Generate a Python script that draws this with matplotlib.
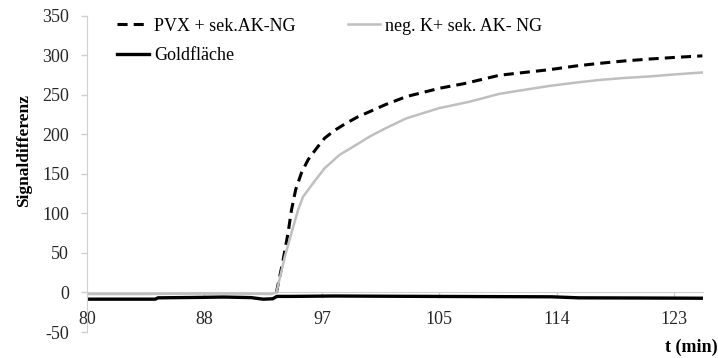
import matplotlib
matplotlib.use('Agg')
import matplotlib.pyplot as plt

plt.rcParams['font.family'] = ['Liberation Serif', 'DejaVu Serif']
plt.rcParams['axes.unicode_minus'] = False

# Zeit (min) und Signaldifferenz
t_pvx = [93.87, 94.36, 94.72, 94.97, 95.28, 95.70, 96.18, 96.80, 97.40, 98.14,
         98.99, 99.84, 100.70, 101.8, 103.38, 105.8, 107.64, 110.2, 112.0,
         113.86, 115.7, 117.5, 119.3, 121.2, 123.0, 125.06]
y_pvx = [0, 41, 75, 104, 130, 151, 167.5, 182, 195, 205,
         214, 222, 228.5, 237, 247.5, 258, 264, 274.5, 278,
         281.5, 286, 289.5, 292.5, 295, 297, 299]

t_neg = [80.0, 84.0, 88.0, 91.0, 93.5, 93.87, 94.48, 94.97, 95.45, 95.82, 96.55,
         97.40, 98.50, 99.47, 100.70, 101.8, 103.38, 105.8, 108.0, 110.2,
         112.0, 113.86, 115.7, 117.5, 119.3, 121.2, 123.0, 125.06]
y_neg = [-2, -2, -1.5, -1.5, -2, 0, 45, 75, 104, 121, 138,
         157, 174, 184, 197, 207, 220, 233, 241, 251,
         256, 261, 265, 268.5, 271, 273, 275.5, 278]

t_gold = [80.0, 85.0, 85.2, 88.0, 90.0, 92.0, 92.9, 93.6, 93.9, 95.0, 98.0, 102.0,
          105.0, 110.0, 114.0, 116.0, 120.0, 125.06]
y_gold = [-8.5, -8.5, -6.8, -6.3, -5.8, -6.5, -8.5, -8.0, -5.0, -5.0, -4.5, -4.8,
          -5.0, -5.3, -5.5, -6.8, -7.0, -7.3]

tick_vals = [80.0, 88.6, 97.2, 105.8, 114.4, 123.0]
tick_labels = ['80', '88', '97', '105', '114', '123']

fig = plt.figure(figsize=(7.18, 3.58), dpi=100)
ax = fig.add_axes([0.1212, 0.0726, 0.8578, 0.8841])

ax.plot(t_pvx, y_pvx, color='black', lw=2.2, dashes=(3.3, 2.0),
        label='PVX + sek.AK-NG')
ax.plot(t_neg, y_neg, color='#bfbfbf', lw=1.8, label='neg. K+ sek. AK- NG')
ax.plot(t_gold, y_gold, color='black', lw=2.4, label='Goldfläche')

ax.set_xlim(80, 125.1)
ax.set_ylim(-50, 350)
ax.set_yticks(range(-50, 351, 50))
ax.set_xticks(tick_vals)
ax.set_xticklabels(tick_labels)

for s in ['top', 'right']:
    ax.spines[s].set_visible(False)
ax.spines['bottom'].set_position(('data', 0))
ax.spines['bottom'].set_color('#d0d0d0')
ax.spines['left'].set_color('#d0d0d0')
ax.spines['bottom'].set_zorder(0)
ax.tick_params(axis='y', length=4, width=1, color='#d0d0d0', pad=9,
               labelsize=13, labelcolor='#262626')
ax.tick_params(axis='x', length=4, width=1, color='#d0d0d0', pad=9,
               labelsize=13, labelcolor='#262626')

fig.text(0.033, 0.581, 'Signaldifferenz', rotation=90, fontsize=12.5,
         fontweight='bold', ha='center', va='center')
fig.text(0.999, 0.005, 't (min)', fontsize=13, fontweight='bold',
         ha='right', va='bottom')

h, l = ax.get_legend_handles_labels()
order = [0, 2, 1]
ax.legend([h[i] for i in order], [l[i] for i in order], ncol=2, frameon=False,
          loc='upper left', bbox_to_anchor=(0.022, 1.045), fontsize=13,
          handlelength=1.8, handletextpad=0.25, columnspacing=2.9,
          labelspacing=0.7)

fig.savefig('out.png', dpi=100)
